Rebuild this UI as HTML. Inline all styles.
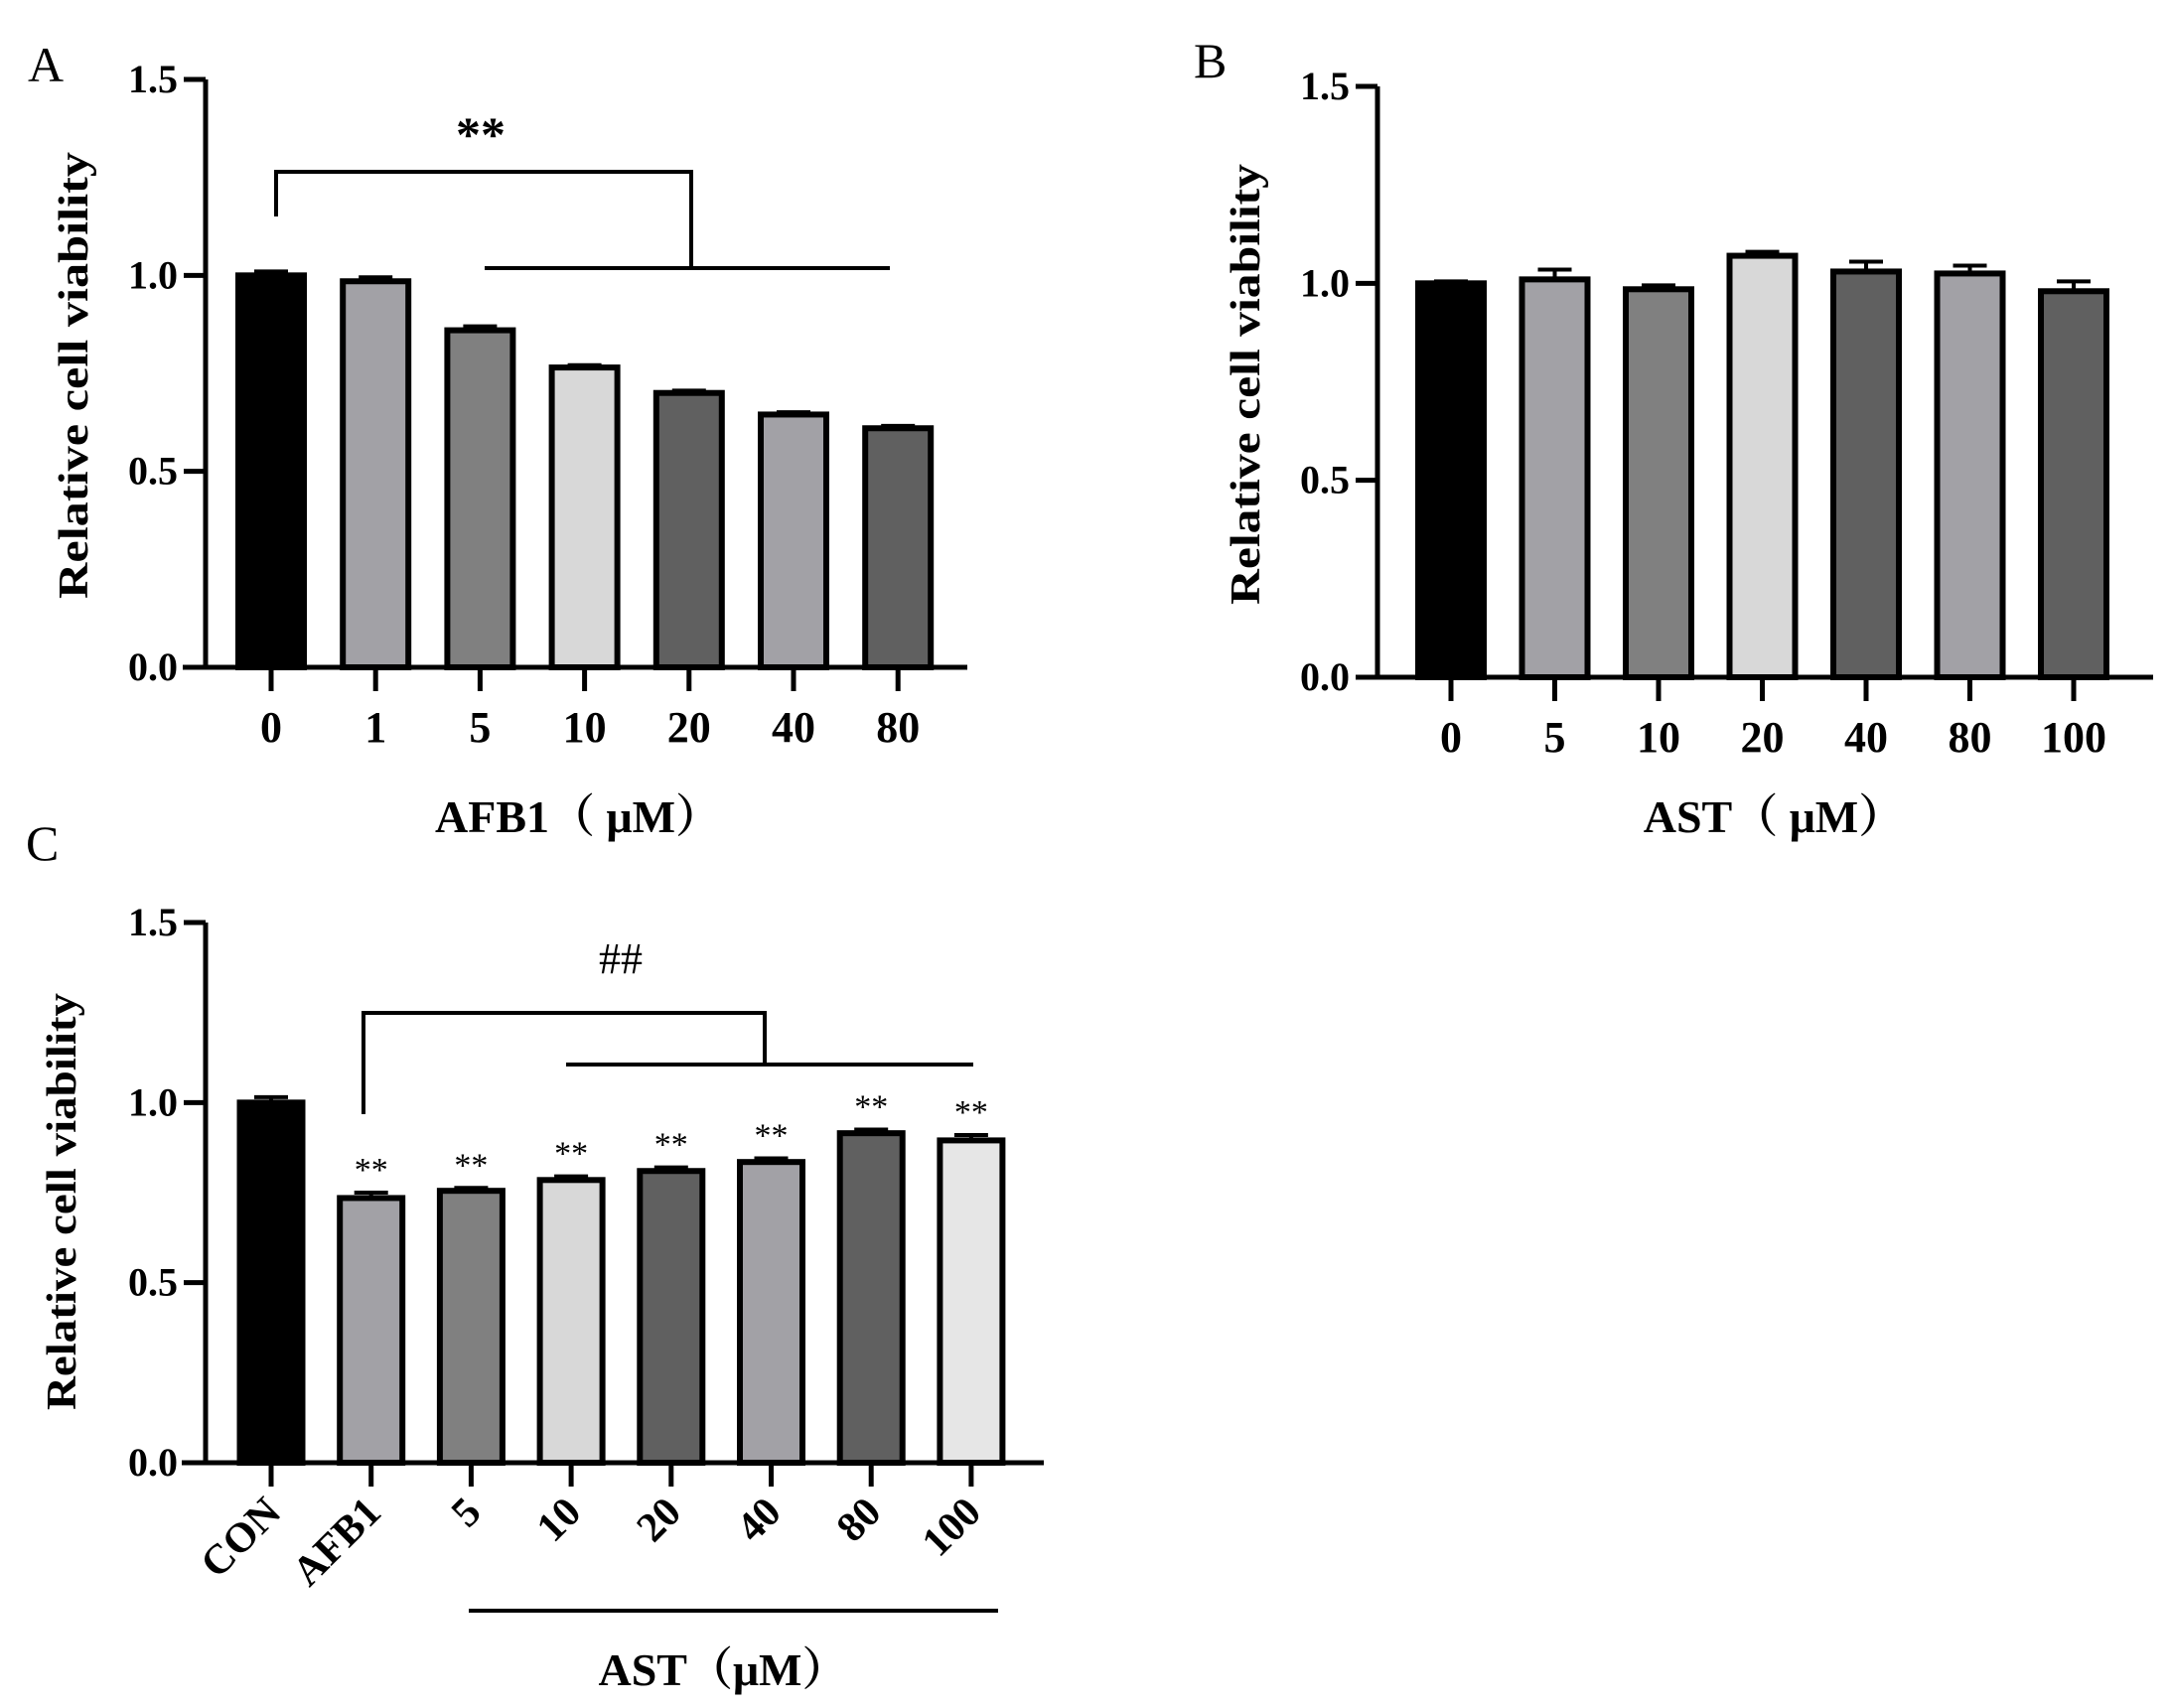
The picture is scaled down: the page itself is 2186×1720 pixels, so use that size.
<!DOCTYPE html>
<html><head><meta charset="utf-8"><style>
html,body{margin:0;padding:0;background:#fff;}
svg{display:block;font-family:"Liberation Serif","Noto Serif CJK SC",serif;}
</style></head><body>
<svg id="fig" width="2186" height="1720" viewBox="0 0 2186 1720" xmlns="http://www.w3.org/2000/svg">
<text x="28" y="82" font-size="50">A</text>
<text x="1202" y="78" font-size="50">B</text>
<text x="26" y="866" font-size="50">C</text>
</svg>
<script>
const aCategories=["0","1","5","10","20","40","80"];
const aValues=[1.0,0.985,0.86,0.765,0.70,0.645,0.61];
const aErrors=[0.01,0.01,0.01,0.006,0.006,0.006,0.006];
const bCategories=["0","5","10","20","40","80","100"];
const bValues=[1.0,1.01,0.985,1.07,1.03,1.025,0.98];
const bErrors=[0.005,0.025,0.01,0.01,0.025,0.02,0.025];
const cCategories=["CON","AFB1","5","10","20","40","80","100"];
const cValues=[1.0,0.735,0.755,0.785,0.81,0.835,0.915,0.895];
const cErrors=[0.015,0.015,0.008,0.01,0.01,0.01,0.01,0.015];
const yTicks=[0,0.5,1.0,1.5];
const yTickLabels=["0.0","0.5","1.0","1.5"];

const NS="http://www.w3.org/2000/svg";
const svg=document.getElementById('fig');
function mk(tag,attrs,parent){const e=document.createElementNS(NS,tag);for(const k in attrs)e.setAttribute(k,attrs[k]);(parent||svg).appendChild(e);return e;}

function panel(p){
  const g=mk('g',{});
  
  
  const y=v=>p.y0-(p.y0-p.y15)*v/1.5;
  const x=i=>p.x0+i*p.dx;
  p.vals.forEach((v,i)=>{
    const top=y(v), bw=p.bw;
    const r=mk('rect',{x:x(i)-bw/2,y:top,width:bw,height:p.y0-top,fill:p.fills[i],stroke:'#000','stroke-width':6},g);
    
    
    const et=y(v+p.errs[i]);
    const e=mk('path',{d:`M${x(i)},${top} V${et} M${x(i)-17},${et} H${x(i)+17}`,stroke:'#000','stroke-width':4,fill:'none'},g);
    
    
    if(p.stars&&p.stars[i]){
      const s=mk('text',{x:x(i),y:et-12,'font-size':34,'text-anchor':'middle'},g);
      s.textContent='**';
      
      
    }
  });
  const ax=mk('path',{d:`M${p.ax},${p.y15} V${p.y0} M${p.axStart},${p.y0} H${p.axEnd}`,stroke:'#000','stroke-width':5,fill:'none'},g);
  
  
  yTicks.forEach((t,k)=>{
    mk('line',{x1:p.ax-22,x2:p.ax,y1:y(t),y2:y(t),stroke:'#000','stroke-width':5},g);
    const tl=mk('text',{x:p.ax-28,y:y(t)+13,'font-size':40,'font-weight':'bold','text-anchor':'end'},g);
    tl.textContent=yTickLabels[k];
    
    
  });
  p.cats.forEach((c,i)=>{
    mk('line',{x1:x(i),x2:x(i),y1:p.y0,y2:p.y0+24,stroke:'#000','stroke-width':5},g);
    let tl;
    if(p.rot){
      tl=mk('text',{x:x(i)+12,y:p.y0+52,'font-size':42,'font-weight':'bold','text-anchor':'end',transform:`rotate(-45 ${x(i)+12} ${p.y0+52})`},g);
    } else {
      tl=mk('text',{x:x(i),y:p.tickY,'font-size':44,'font-weight':'bold','text-anchor':'middle'},g);
    }
    tl.textContent=c;
    
    
  });
  const yt=mk('text',{x:0,y:0,'font-size':42,'font-weight':'bold','text-anchor':'middle',transform:`translate(${p.ytX},${p.ytY}) rotate(-90)`,textLength:p.ytLen,lengthAdjust:'spacingAndGlyphs'},g);
  yt.textContent='Relative cell viability';
  
  
  const xt=mk('text',{x:p.xtX,y:p.xtY,'font-size':46,'font-weight':'bold','text-anchor':'middle'},g);
  xt.textContent=p.xTitle;
  
  
  return {g,x,y};
}

const A=panel({name:'panel-a-chart',cats:aCategories,vals:aValues,errs:aErrors,
  fills:['#000','#a2a1a6','#808080','#d8d8d8','#606060','#a2a1a6','#606060'],
  x0:273,dx:105.2,bw:66,y0:672,y15:80,ax:207,axStart:184,axEnd:974,tickY:747,
  ytX:88,ytY:378,ytLen:450,xtX:582,xtY:838,xTitle:'AFB1（ μM）'});
let br=mk('path',{d:'M278,218 V173 H696 V270 M488,270 H896',stroke:'#000','stroke-width':4,fill:'none'});


let st=mk('text',{x:484,y:152,'font-size':50,'font-weight':'bold','text-anchor':'middle'});
st.textContent='**';



const B=panel({name:'panel-b-chart',cats:bCategories,vals:bValues,errs:bErrors,
  fills:['#000','#a2a1a6','#808080','#d8d8d8','#606060','#a2a1a6','#606060'],
  x0:1461,dx:104.5,bw:66,y0:682,y15:87,ax:1387,axStart:1365,axEnd:2168,tickY:757,
  ytX:1268,ytY:387,ytLen:444,xtX:1786,xtY:838,xTitle:'AST（ μM）'});

const C=panel({name:'panel-c-chart',cats:cCategories,vals:cValues,errs:cErrors,
  stars:[false,true,true,true,true,true,true,true],
  fills:['#000','#a2a1a6','#808080','#d8d8d8','#606060','#a2a1a6','#606060','#e6e6e6'],
  x0:273,dx:100.7,bw:63,y0:1473,y15:929,ax:207,axStart:183,axEnd:1051,rot:true,
  ytX:76,ytY:1210,ytLen:420,xtX:728,xtY:1697,xTitle:'AST（μM）'});
br=mk('path',{d:'M366,1122 V1020 H770 V1072 M570,1072 H980 M472,1622 H1005',stroke:'#000','stroke-width':4,fill:'none'});


st=mk('text',{x:625,y:980,'font-size':44,'text-anchor':'middle'});
st.textContent='##';


</script>
</body></html>
